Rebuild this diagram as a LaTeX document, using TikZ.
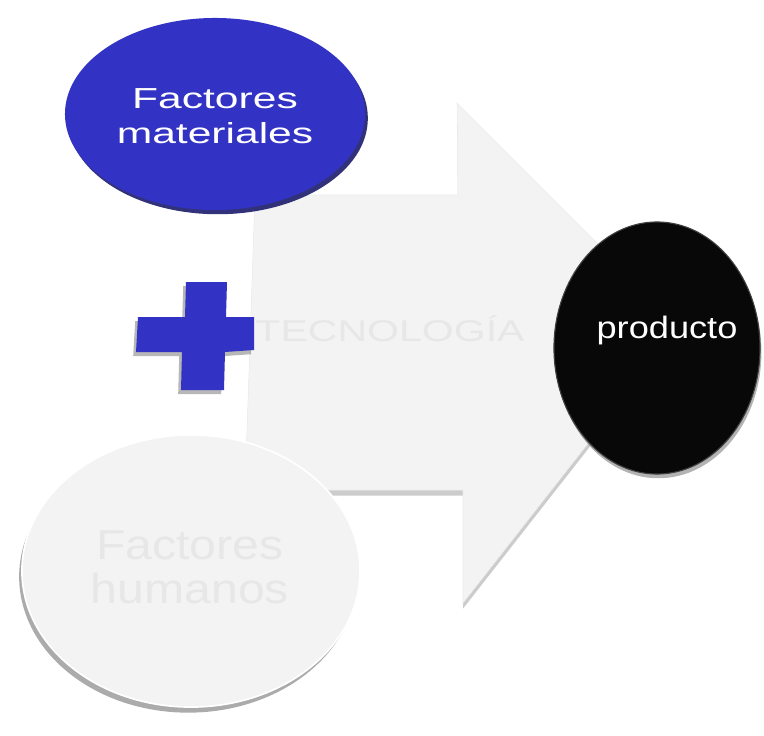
\documentclass[tikz,border=0pt]{standalone}
\usepackage{fontspec}
\setmainfont{Liberation Sans}
\usetikzlibrary{shapes.geometric, shadows}
\definecolor{azul}{RGB}{50,50,196}
\definecolor{grisflecha}{RGB}{243,243,243}
\definecolor{gristexto}{RGB}{231,231,231}
\definecolor{negro}{RGB}{8,8,8}
\newcommand{\estirar}[2]{\scalebox{#1}[1]{\begin{tabular}{@{}c@{}}#2\end{tabular}}}
\tikzstyle{disco} = [ellipse, inner sep=0pt, draw=none]
\tikzstyle{materiales} = [disco, fill=azul, minimum width=7.5cm, minimum height=4.8cm, drop shadow={shadow xshift=2pt, shadow yshift=-3pt, fill=azul!55!black, opacity=0.9}]
\tikzstyle{humanos} = [disco, fill=grisflecha, draw=white, line width=1.2pt, minimum width=8.45cm, minimum height=6.8cm, drop shadow={shadow xshift=-2pt, shadow yshift=-4pt, fill=black!60, opacity=0.55}]
\tikzstyle{producto} = [disco, fill=negro, draw=black!75, line width=0.8pt, minimum width=5.15cm, minimum height=6.3cm, drop shadow={shadow xshift=1pt, shadow yshift=-3pt, fill=gray, opacity=0.6}]
\tikzstyle{flecha} = [fill=grisflecha, draw=gray!15, line width=0.4pt, drop shadow={shadow xshift=0pt, shadow yshift=-4pt, fill=gray!80, opacity=0.5}]
\tikzstyle{mas} = [fill=azul, draw=none, drop shadow={shadow xshift=-2pt, shadow yshift=-3pt, fill=gray!80, opacity=0.7}]
\tikzstyle{etiqueta} = [inner sep=0pt, text centered]

\begin{document}
\begin{tikzpicture}[x=0.025cm, y=-0.025cm]
        \useasboundingbox (0,0) rectangle (764,736);

        % Arrow
        \path [flecha] (255,195) -- (458,195) -- (457,103) -- (680,326) -- (463,603) -- (463,490) -- (245,490) -- cycle;
        \node (tecnologia) [etiqueta, text=gristexto, font=\fontsize{21.3}{25}\selectfont] at (390,334) {\estirar{1.37}{TECNOLOGÍA}};

        % Plus
        \path [mas] (186,282) -- (227,282) -- (226,317) -- (254,317) -- (254,350) -- (225,352) -- (224,390) -- (181,390) -- (182,352) -- (136,352) -- (138,317) -- (185,317) -- cycle;

        % Nodes
        \node (factmat) [materiales] at (215,114) {};
        \node (txtmat) [etiqueta, text=white, font=\fontsize{20.6}{24.8}\selectfont] at (215,119) {\estirar{1.47}{Factores\\materiales}};
        \node (facthum) [humanos] at (191,571) {};
        \node (txthum) [etiqueta, text=gristexto, font=\fontsize{29.8}{31.2}\selectfont] at (190,573) {\estirar{1.15}{Factores\\humanos}};
        \node (producto) [producto] at (657,348) {};
        \node (txtprod) [etiqueta, text=white, font=\fontsize{22}{26}\selectfont] at (667,331) {\estirar{1.17}{producto}};

\end{tikzpicture}
\end{document}
